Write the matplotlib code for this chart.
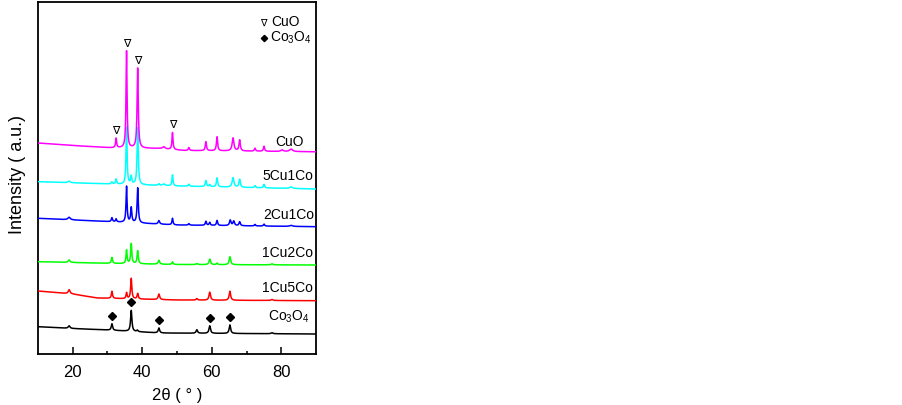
import numpy as np
import matplotlib
matplotlib.use('Agg')
import matplotlib.pyplot as plt

plt.rcParams['font.family'] = ['Liberation Sans', 'DejaVu Sans']
plt.rcParams['mathtext.fontset'] = 'custom'
plt.rcParams['mathtext.rm'] = 'Liberation Sans'
plt.rcParams['mathtext.default'] = 'regular'

# ---------------------------------------------------------------------------
# Data: baseline anchors (2theta, intensity) and
# peaks (2theta, height above baseline, FWHM) for each stacked pattern
# ---------------------------------------------------------------------------
co3o4_base = [(10, 27.3), (20, 25.5), (30, 24.0), (45, 21.0), (90, 20.0)]
co3o4_peaks = [(19.0, 2.5, 0.6), (31.3, 6.5, 0.45), (36.85, 21, 0.45),
               (38.6, 1.5, 0.4), (44.8, 5, 0.5), (55.7, 3.5, 0.5),
               (59.4, 7.5, 0.5), (65.2, 8.5, 0.5), (77.3, 1, 0.6)]

cu1co5_base = [(10, 63.0), (20, 60.0), (27, 56.0), (50, 54.0), (90, 53.3)]
cu1co5_peaks = [(19.0, 4, 0.6), (31.3, 7, 0.4), (35.5, 6, 0.35),
                (36.85, 20.5, 0.4), (38.7, 5.5, 0.4), (44.8, 5.5, 0.5),
                (55.7, 1.5, 0.5), (59.4, 8, 0.5), (65.2, 9, 0.5), (77.3, 1, 0.6)]

cu1co2_base = [(10, 92.3), (30, 90.7), (50, 89.5), (90, 89.0)]
cu1co2_peaks = [(19.0, 2.5, 0.6), (31.3, 6, 0.4), (35.5, 13.5, 0.35),
                (36.85, 20, 0.4), (38.7, 13, 0.4), (44.8, 4, 0.5),
                (48.7, 2.5, 0.4), (55.7, 1, 0.5), (59.4, 5.5, 0.5),
                (61.5, 1.5, 0.4), (65.2, 8, 0.5), (77.3, 1, 0.6)]

cu2co1_base = [(10, 135.7), (31, 132.3), (50, 129.0), (90, 127.3)]
cu2co1_peaks = [(19.0, 2.5, 0.8), (31.3, 4, 0.4), (32.5, 3, 0.35),
                (35.5, 36, 0.35), (36.85, 15, 0.4), (38.7, 35, 0.4),
                (44.8, 3.5, 0.5), (48.7, 6.5, 0.35), (53.4, 1.5, 0.4),
                (58.3, 4, 0.4), (59.4, 3, 0.4), (61.5, 5, 0.4), (65.3, 5.5, 0.5),
                (66.3, 4.5, 0.5), (68.0, 4, 0.45), (72.4, 1.5, 0.4),
                (75.0, 2, 0.4), (82.8, 1, 1.0)]

cu5co1_base = [(10, 172.3), (31, 170.0), (50, 168.0), (90, 165.0)]
cu5co1_peaks = [(19.0, 1.5, 0.8), (31.3, 2, 0.4), (32.5, 5, 0.35),
                (35.5, 57, 0.35), (36.85, 8, 0.4), (38.7, 57, 0.4),
                (44.8, 1.5, 0.5), (46.2, 1.5, 0.8), (48.7, 11, 0.35),
                (53.4, 2, 0.4), (58.3, 6, 0.4), (59.4, 2, 0.4), (61.5, 9, 0.4),
                (66.1, 9.5, 0.6), (68.0, 8, 0.45), (72.4, 2, 0.4),
                (75.0, 3.5, 0.4), (82.8, 1.5, 1.0)]

cuo_base = [(10, 211.0), (20, 208.5), (31, 206.2), (45, 205.5), (52, 203.5), (90, 202.2)]
cuo_peaks = [(32.5, 9.5, 0.35), (35.5, 97, 0.35), (38.7, 80, 0.4),
             (46.2, 2, 0.8), (48.7, 17, 0.35), (53.4, 3, 0.4), (58.3, 9, 0.4),
             (61.5, 14, 0.4), (66.1, 13, 0.6), (68.0, 11, 0.45), (72.4, 3, 0.4),
             (75.0, 5, 0.4), (80.2, 1.5, 0.8), (82.8, 2.5, 1.0)]

sample_labels = ['Co$_3$O$_4$', '1Cu5Co', '1Cu2Co', '2Cu1Co', '5Cu1Co', 'CuO']
sample_colors = ['black', '#FF0000', '#00FF00', '#0000FF', '#00FFFF', '#FF00FF']
label_x = [88.1, 89.0, 89.0, 89.3, 89.3, 86.4]
label_y = [37.0, 66.3, 101.3, 139.0, 178.0, 212.3]

cuo_marks = [32.5, 35.5, 38.7, 48.7]            # reflections marked with ∇
co3o4_marks = [31.3, 36.85, 44.9, 59.5, 65.3]   # reflections marked with ◆


def pattern(x, base, peaks):
    bx, by = zip(*base)
    y = np.interp(x, bx, by)
    for pos, h, w in peaks:
        y = y + h / (1 + ((x - pos) / (w / 2)) ** 2)
    return y


tt = np.arange(10, 90.001, 0.01)
curves = [pattern(tt, b, p) for b, p in [(co3o4_base, co3o4_peaks),
                                         (cu1co5_base, cu1co5_peaks),
                                         (cu1co2_base, cu1co2_peaks),
                                         (cu2co1_base, cu2co1_peaks),
                                         (cu5co1_base, cu5co1_peaks),
                                         (cuo_base, cuo_peaks)]]

# ---------------------------------------------------------------------------
# Figure
# ---------------------------------------------------------------------------
fig = plt.figure(figsize=(9.03, 4.05), dpi=100)
ax = fig.add_axes([37.8 / 903, 51 / 405, 278.4 / 903, 352 / 405])

for i, (y, c) in enumerate(zip(curves, sample_colors)):
    ax.plot(tt, y, color=c, lw=1.1, zorder=2 + i)

for lab, lx, ly in zip(sample_labels, label_x, label_y):
    ax.text(lx, ly, lab, ha='right', va='center', fontsize=10)


def peak_top(y, pos):
    m = np.abs(tt - pos) < 0.3
    return y[m].max()


for pos in cuo_marks:
    ax.text(pos, peak_top(curves[-1], pos) + 7, '\u2207', ha='center', va='center',
            fontsize=8, family=['DejaVu Sans'], zorder=10)
for pos in co3o4_marks:
    ax.plot(pos, peak_top(curves[0], pos) + 8, marker='D', ms=4.5, color='black',
            ls='none', zorder=10)

# legend (drawn as text, like the original)
ax.text(74.8, 331.5, '\u2207', ha='center', va='center', fontsize=7,
        family=['DejaVu Sans'])
ax.text(77.0, 331.5, 'CuO', ha='left', va='center', fontsize=10)
ax.plot(75.0, 315.7, marker='D', ms=3.2, color='black', ls='none')
ax.text(76.8, 316.5, 'Co$_3$O$_4$', ha='left', va='center', fontsize=10)

ax.set_xlim(10, 90)
ax.set_ylim(0, 352)
ax.set_yticks([])
ax.set_xticks([20, 40, 60, 80])
ax.set_xticks([30, 50, 70], minor=True)
ax.tick_params(axis='x', which='major', direction='in', length=5, width=1.1,
               labelsize=12, pad=8)
ax.tick_params(axis='x', which='minor', direction='in', length=2.5, width=1.1)
for s in ax.spines.values():
    s.set_linewidth(1.3)

ax.set_xlabel('2\u03b8 ( \u00b0 )', fontsize=12, labelpad=6)
ax.set_ylabel('Intensity ( a.u.)', fontsize=13)
ax.yaxis.set_label_coords(-0.044, 0.51)

fig.savefig('out.png', dpi=100, facecolor='white')
